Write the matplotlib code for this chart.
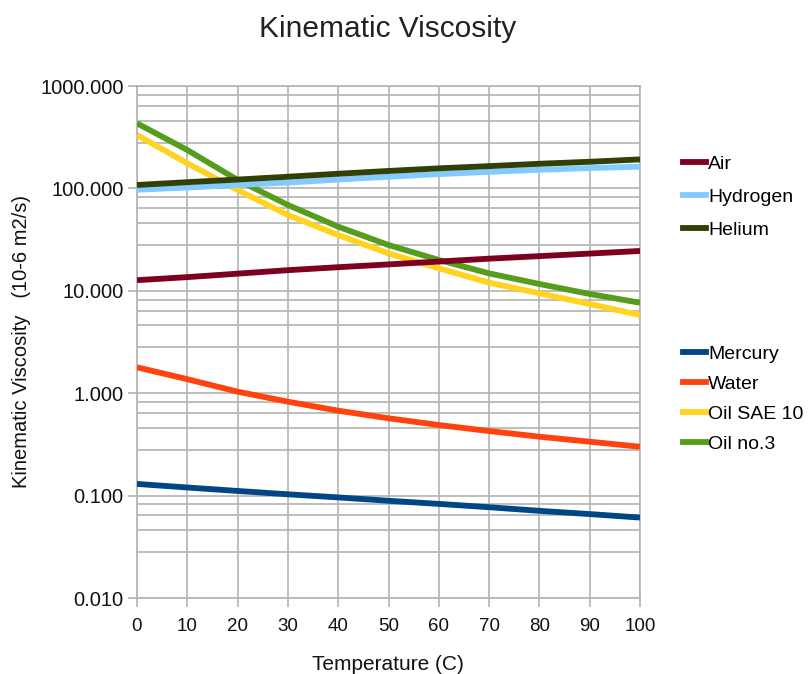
import matplotlib
matplotlib.use("Agg")
import matplotlib.pyplot as plt
from matplotlib.ticker import FixedLocator, FormatStrFormatter, NullFormatter
from matplotlib.lines import Line2D

plt.rcParams['font.family'] = ['Liberation Sans', 'DejaVu Sans']

temperature = [0, 10, 20, 30, 40, 50, 60, 70, 80, 90, 100]

air = [12.7, 13.6, 14.7, 15.9, 17.0, 18.1, 19.3, 20.6, 21.8, 23.1, 24.5]
hydrogen = [97, 102, 108, 114, 122, 130, 138, 145, 152, 158, 163]
helium = [108, 115, 122, 130, 139, 148, 157, 165, 174, 182, 192]
mercury = [0.130, 0.120, 0.111, 0.103, 0.096, 0.089, 0.083, 0.077, 0.071, 0.066, 0.061]
water = [1.79, 1.37, 1.035, 0.826, 0.675, 0.569, 0.489, 0.427, 0.376, 0.336, 0.300]
oil_sae10 = [332, 176, 96.4, 55.0, 35.0, 23.2, 16.6, 12.0, 9.45, 7.43, 5.8]
oil_no3 = [432, 237, 121, 68.9, 42.3, 28.0, 20.0, 14.8, 11.65, 9.31, 7.65]

series_names = ["Mercury", "Water", "Oil SAE 10", "Oil no.3", "Air", "Hydrogen", "Helium"]
series_values = [mercury, water, oil_sae10, oil_no3, air, hydrogen, helium]
series_colors = ["#004586", "#ff420e", "#ffd320", "#579d1c", "#7e0021", "#83caff", "#314004"]

legend_top = ["Air", "Hydrogen", "Helium"]
legend_bottom = ["Mercury", "Water", "Oil SAE 10", "Oil no.3"]

W, H = 808, 674
fig = plt.figure(figsize=(W / 100, H / 100), dpi=100)
ax = fig.add_axes([137 / W, 1 - 598 / H, (640 - 137) / W, (598 - 86) / H])

lines = {}
for name, vals, col in zip(series_names, series_values, series_colors):
    ln, = ax.plot(temperature, vals, color=col, lw=4.2, solid_capstyle='butt', zorder=3)
    lines[name] = ln

ax.set_yscale('log')
ax.set_xlim(0, 100)
ax.set_ylim(0.01, 1000)
ax.xaxis.set_major_locator(FixedLocator(temperature))
ax.yaxis.set_major_locator(FixedLocator([0.01, 0.1, 1, 10, 100, 1000]))
minor = [m * 10.0 ** e for e in range(-2, 3) for m in (2.8, 4.6, 6.4, 8.2)]
ax.yaxis.set_minor_locator(FixedLocator(minor))
ax.yaxis.set_minor_formatter(NullFormatter())
ax.yaxis.set_major_formatter(FormatStrFormatter('%.3f'))

gc = '#b3b3b3'
ax.grid(True, which='major', color=gc, lw=1.2, zorder=1)
ax.grid(True, which='minor', axis='y', color=gc, lw=1.2, zorder=1)
for s in ax.spines.values():
    s.set_color(gc)
    s.set_linewidth(1.2)
ax.tick_params(axis='both', which='major', color=gc, width=1.2, labelcolor='#111111')
ax.tick_params(axis='x', which='major', labelsize=13.5, length=6.5, pad=8)
ax.tick_params(axis='y', which='major', labelsize=14.5, length=6.5, pad=3)
ax.tick_params(axis='y', which='minor', length=0)

fig.text(388 / W, 1 - 29 / H, "Kinematic Viscosity", ha='center', va='center',
         fontsize=21.5, color='#222222')
fig.text(388 / W, 1 - 664 / H, "Temperature (C)", ha='center', va='center',
         fontsize=15, color='#111111')
fig.text(22 / W, 1 - 342 / H, "Kinematic Viscosity   (10-6 m2/s)", ha='center', va='center',
         rotation=90, fontsize=14.5, color='#111111')

def make_legend(names, top_px, spacing):
    handles = [Line2D([], [], color=lines[n].get_color(), lw=4.2) for n in names]
    lg = fig.legend(handles, names, loc='upper left',
                    bbox_to_anchor=(683 / W, 1 - top_px / H),
                    frameon=False, fontsize=14, handlelength=1.2,
                    handletextpad=0.08, labelspacing=spacing, borderpad=0,
                    borderaxespad=0)
    return lg

make_legend(legend_top, 155.5, 0.79)
make_legend(legend_bottom, 345.5, 0.64)

fig.savefig("out.png", dpi=100)
